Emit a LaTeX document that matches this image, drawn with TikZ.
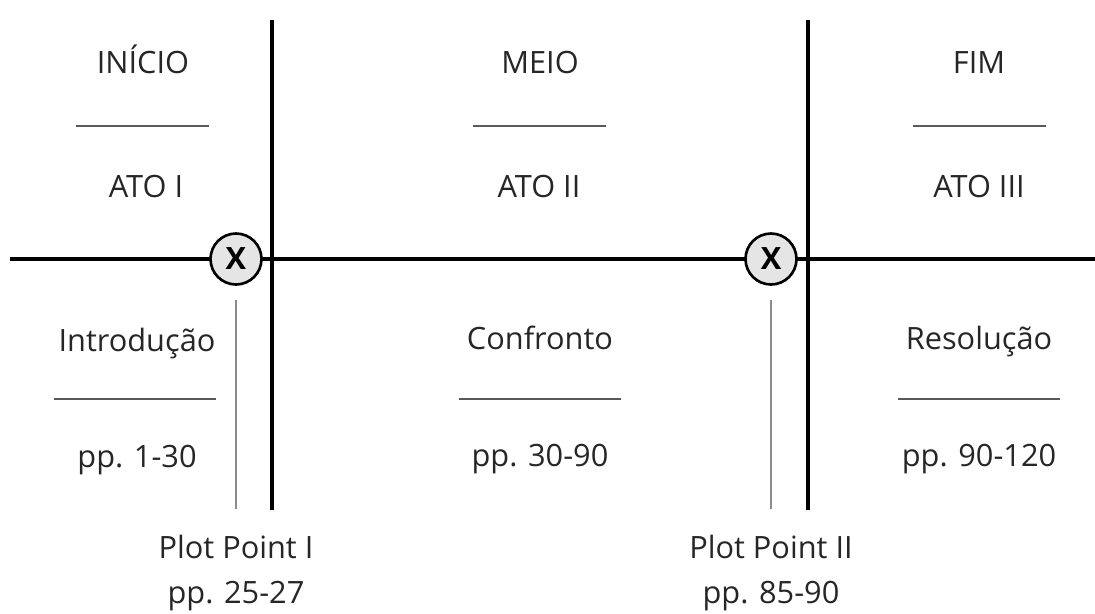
\documentclass[tikz,border=0pt]{standalone}
\usepackage{fontspec}
\setmainfont{Open Sans}

\begin{document}
\begin{tikzpicture}[x=0.02cm, y=-0.02cm,
  every node/.style={font=\fontsize{17.5}{21}\selectfont, text=black!85, anchor=base, inner sep=0pt},
  axis/.style={line width=2.3pt, black},
  rule/.style={line width=0.6pt, black!65},
  guide/.style={line width=0.6pt, black!45},
  plotmark/.style={circle, draw, line width=1.5pt, fill=black!10, minimum size=1.02cm, inner sep=0pt, anchor=center, font=\fontsize{17.5}{21}\selectfont\bfseries, text=black}]

\useasboundingbox (0,0) rectangle (1095,613);

% main axes
\coordinate (hl) at (10,259);
\coordinate (hr) at (1095,259);
\coordinate (v1t) at (272,20);
\coordinate (v1b) at (272,510);
\coordinate (v2t) at (808,20);
\coordinate (v2b) at (808,510);

\draw[axis] (hl) -- (hr);
\draw[axis] (v1t) -- (v1b);
\draw[axis] (v2t) -- (v2b);

% top labels
\node (ini) at (143,73) {INÍCIO};
\node (meio) at (540,73) {MEIO};
\node (fim) at (979,73) {FIM};

\draw[rule] (76,126) coordinate (r1a) -- (209,126) coordinate (r1b);
\draw[rule] (473,126) coordinate (r2a) -- (606,126) coordinate (r2b);
\draw[rule] (913,126) coordinate (r3a) -- (1046,126) coordinate (r3b);

\node (ato1) at (146,197) {ATO I};
\node (ato2) at (539,197) {ATO II};
\node (ato3) at (979,197) {ATO III};

% bottom labels
\node (intro) at (137,351) {Introdução};
\node (conf) at (540,349) {Confronto};
\node (reso) at (979,349) {Resolução};

\draw[rule] (54,399) coordinate (r4a) -- (216,399) coordinate (r4b);
\draw[rule] (459,399) coordinate (r5a) -- (621,399) coordinate (r5b);
\draw[rule] (898,399) coordinate (r6a) -- (1060,399) coordinate (r6b);

\node (pp1) at (137,467) {pp. 1-30};
\node (pp2) at (540,466) {pp. 30-90};
\node (pp3) at (979,466) {pp. 90-120};

% plot points
\node[plotmark] (x1) at (236,259) {X};
\node[plotmark] (x2) at (771,259) {X};

\coordinate (g1t) at (236,300);
\coordinate (g1) at (236,509);
\coordinate (g2t) at (771,300);
\coordinate (g2) at (771,509);
\draw[guide] (g1t) -- (g1);
\draw[guide] (g2t) -- (g2);

\node (plot1) at (236,558) {Plot Point I};
\node (plot1pp) at (236,603) {pp. 25-27};
\node (plot2) at (771,558) {Plot Point II};
\node (plot2pp) at (771,603) {pp. 85-90};

\end{tikzpicture}
\end{document}
